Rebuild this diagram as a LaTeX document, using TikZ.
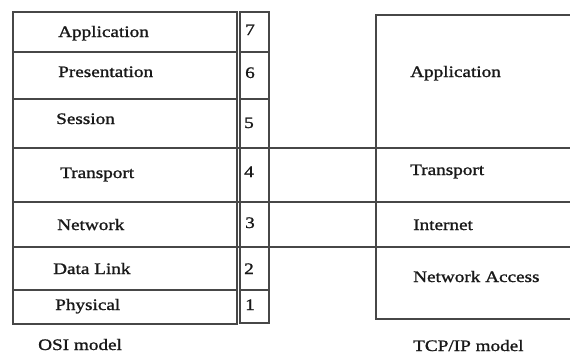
\documentclass[tikz,border=0pt]{standalone}
\usepackage{fontspec}
\setmainfont{Liberation Serif}[FakeStretch=1.2,FakeBold=1.3]
\begin{document}
\begin{tikzpicture}[x=1pt,y=-1pt]
\tikzset{
  ln/.style={draw=black!72,line width=1.3pt},
  lbl/.style={font=\fontsize{16}{18}\selectfont, text=black!90, inner sep=0pt, anchor=base west},
  num/.style={font=\fontsize{16}{18}\selectfont, text=black!90, inner sep=0pt, anchor=base}
}
\useasboundingbox (0,0) rectangle (570,356);
\fill[white] (0,0) rectangle (570,356);
% OSI layer box
\draw[ln] (13,12) rectangle (237,324);
\foreach \y in {52,99,290} \draw[ln] (13,\y) -- (237,\y);
% number column
\draw[ln] (240,12) rectangle (269,323);
\foreach \y in {52,99,290} \draw[ln] (240,\y) -- (269,\y);
% TCP/IP box
\coordinate (tnw) at (376,15);
\coordinate (tsw) at (376,319);
\draw[ln] (570,15) -- (tnw) -- (tsw) -- (570,319);
% lines spanning both models
\foreach \y in {148,202,247} \draw[ln] (13,\y) -- (570,\y);
% OSI labels
\node[lbl] (oapp) at (58,37) {Application};
\node[lbl] (opre) at (58,77) {Presentation};
\node[lbl] (oses) at (56,124) {Session};
\node[lbl] (otra) at (60,178) {Transport};
\node[lbl] (onet) at (57,230) {Network};
\node[lbl] (odl) at (53,274) {Data Link};
\node[lbl] (ophy) at (55,310) {Physical};
\node[lbl] (osi) at (38,350) {OSI model};
% numbers
\node[num] (n7) at (250,35) {7};
\node[num] (n6) at (250,78) {6};
\node[num] (n5) at (249,128) {5};
\node[num] (n4) at (249,177) {4};
\node[num] (n3) at (250,228) {3};
\node[num] (n2) at (249,274) {2};
\node[num] (n1) at (250,310) {1};
% TCP/IP labels
\node[lbl] (tapp) at (410,77) {Application};
\node[lbl] (ttra) at (410,175) {Transport};
\node[lbl] (tint) at (413,230) {Internet};
\node[lbl] (tna) at (413,282) {Network Access};
\node[lbl] (tcp) at (413,351) {TCP/IP model};
\end{tikzpicture}
\end{document}
